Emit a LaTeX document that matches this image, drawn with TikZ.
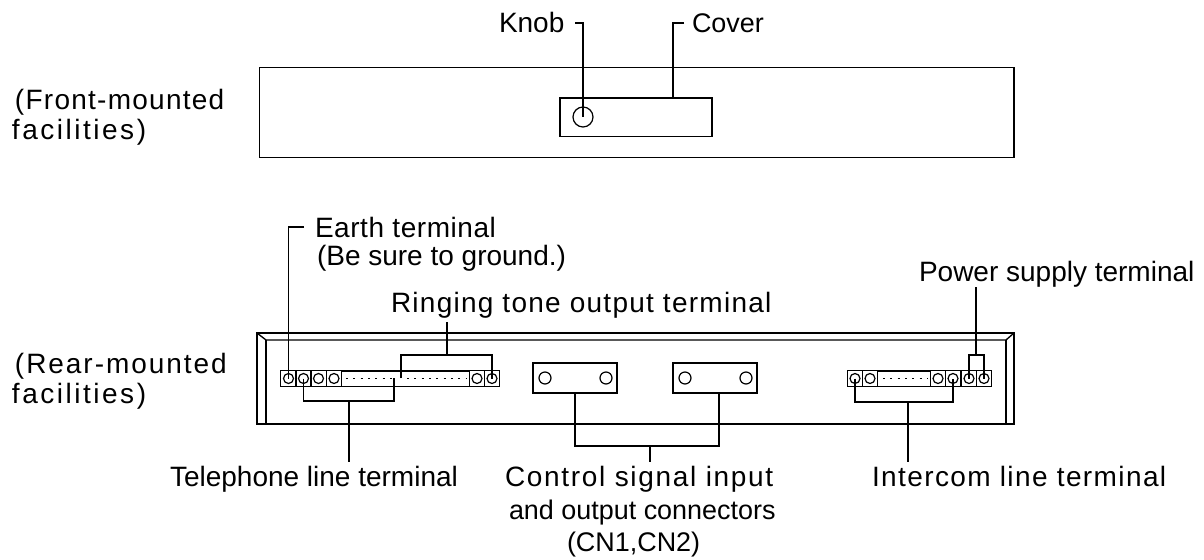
\documentclass[tikz,border=0pt]{standalone}
\usepackage{fontspec}
\setmainfont{Liberation Sans}
\newcommand{\spaced}[2]{{\addfontfeature{LetterSpace=#1}#2}}
\begin{document}
\begin{tikzpicture}[x=0.75pt,y=-0.75pt,
        every node/.style = {inner sep=0pt, outer sep=0pt},
        panel/.style = {draw, line width=1pt},
        lead/.style = {draw, line width=1pt},
        label/.style = {anchor=base west, font=\fontsize{21}{24.5}\selectfont},
        smalllabel/.style = {anchor=base west, font=\fontsize{20.2}{24}\selectfont},
        hole/.style = {draw, circle, line width=0.9pt, minimum size=7.5pt},
        bighole/.style = {draw, circle, line width=0.9pt, minimum size=9pt},
        cell/.style = {draw, line width=0.9pt, minimum height=11.5pt, minimum width=11.5pt},
        dots/.style = {line width=1.2pt, dash pattern=on 1.5pt off 4pt}]
      \useasboundingbox (0,0) rectangle (1204,560);
      % front panel
      \node[panel, minimum width=566pt, minimum height=67pt] (frontpanel) at (636.5,112.5) {};
      \node[panel, minimum width=114pt, minimum height=29pt] (coverbox) at (636,117.5) {};
      \node[draw, circle, line width=0.9pt, minimum size=15pt] (knob) at (583,117) {};
      \coordinate (covertop) at (673,98);
      \node[label] (knoblabel) at (499,33) {Knob};
      \node[smalllabel] (coverlabel) at (692,33) {Cover};
      \coordinate (knobstub) at (575,23);
      \coordinate (coverstub) at (684,23);
      \draw[lead] (knobstub) -| (knob.center);
      \draw[lead] (coverstub) -| (covertop);
      \node[label] (frontlabel) at (15,109) {\spaced{4.5}{(Front-mounted}};
      \node[label] (frontlabelb) at (12,139) {\spaced{9}{facilities)}};
      % rear panel
      \draw[panel] (257,333) rectangle (1014,424);
      \draw[panel] (257,333) -- (266,340) -- (1006,340) -- (1014,333);
      \draw[panel] (266,340) -- (266,424);
      \draw[panel] (1006,340) -- (1006,424);
      \node[label] (rearlabel) at (15,373) {\spaced{7}{(Rear-mounted}};
      \node[label] (rearlabelb) at (12,403) {\spaced{9}{facilities)}};
      % left terminal strip
      \foreach \name/\px in {a/288.5,b/303.5,c/318.5,d/334,e/477,f/492}
        \node[cell] (cell\name) at (\px,378.5) {};
      \foreach \name/\px in {a/288.5,b/303.5,c/318.5,d/334,e/477,f/492}
        \node[hole] (hole\name) at (\px,378.5) {};
      \draw[panel] (celld.north east) -- (celle.north west);
      \draw[panel] (celld.south east) -- (celle.south west);
      \draw[dots] (346,378.5) -- (392,378.5);
      \draw[dots] (407,378.5) -- (466,378.5);
      % right terminal strip
      \foreach \name/\px in {g/855,h/870,i/938,j/953,k/969,l/984}
        \node[cell] (cell\name) at (\px,378.5) {};
      \foreach \name/\px in {g/855,h/870,i/938,j/953,k/969,l/984}
        \node[hole] (hole\name) at (\px,378.5) {};
      \draw[panel] (cellh.north east) -- (celli.north west);
      \draw[panel] (cellh.south east) -- (celli.south west);
      \draw[dots] (883,378.5) -- (928,378.5);
      % connectors CN1 CN2
      \node[panel, minimum width=63pt, minimum height=22.5pt] (cnone) at (575,378) {};
      \node[panel, minimum width=63pt, minimum height=22.5pt] (cntwo) at (715,378) {};
      \foreach \name/\px in {m/545,n/606,o/685,p/746}
        \node[bighole] (hole\name) at (\px,378) {};
      % labels
      \node[label] (earthlabel) at (315,237) {\spaced{2}{Earth terminal}};
      \node[label] (groundlabel) at (317,265) {(Be sure to ground.)};
      \node[label] (ringlabel) at (391,312) {\spaced{4.5}{Ringing tone output terminal}};
      \node[label] (powerlabel) at (919,281) {Power supply terminal};
      \node[label] (tellabel) at (170,486) {Telephone line terminal};
      \node[label] (ctrllabel) at (505,486) {\spaced{6}{Control signal input}};
      \node[smalllabel] (ctrllabelb) at (509,519) {and output connectors};
      \node[smalllabel] (ctrllabelc) at (567,551) {(CN1,CN2)};
      \node[label] (intlabel) at (872,486) {\spaced{5}{Intercom line terminal}};
      % leads
      \coordinate (earthstub) at (304,227);
      \draw[lead] (earthstub) -| (holea.center);
      \coordinate (ringtop) at (447,322);
      \coordinate (ringbar) at (447,355);
      \coordinate (ringmid) at (401,378);
      \draw[lead] (ringtop) -- (ringbar);
      \draw[lead] (ringmid) |- (ringbar) -| (holef.center);
      \coordinate (telright) at (394,378);
      \coordinate (telbar) at (349,401);
      \coordinate (telend) at (349,462);
      \draw[lead] (holeb.center) |- (telbar) -| (telright);
      \draw[lead] (telbar) -- (telend);
      \coordinate (powertop) at (976,287);
      \coordinate (powerbar) at (976,355);
      \draw[lead] (powertop) -- (powerbar);
      \draw[lead] (holek.center) |- (powerbar) -| (holel.center);
      \coordinate (intbar) at (908,402);
      \coordinate (intend) at (908,462);
      \draw[lead] (holeg.center) |- (intbar) -| (holej.center);
      \draw[lead] (intbar) -- (intend);
      \coordinate (onelead) at (575,393);
      \coordinate (twolead) at (719,393);
      \coordinate (cnbar) at (650,446);
      \coordinate (cnend) at (650,462);
      \draw[lead] (onelead) |- (cnbar) -| (twolead);
      \draw[lead] (cnbar) -- (cnend);
\end{tikzpicture}
\end{document}
